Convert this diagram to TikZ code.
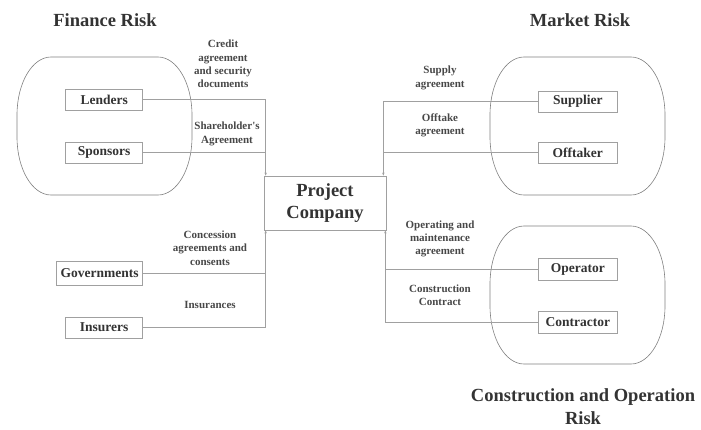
\documentclass[tikz,border=0pt]{standalone}
\usepackage{fontspec}
\setmainfont{Liberation Serif}
\usepackage{xcolor}
\usetikzlibrary{arrows.meta,calc}

\definecolor{inkgray}{HTML}{333333}
\definecolor{linegray}{HTML}{A0A0A0}
\definecolor{blobgray}{HTML}{808080}

\begin{document}
\begin{tikzpicture}[x=1pt,y=-1pt,
    party/.style={draw=linegray,line width=0.7pt,fill=white,text=inkgray,
      font=\fontsize{13.5}{15}\selectfont\bfseries,minimum width=77,minimum height=21,inner sep=4pt},
    deal/.style={text=inkgray!90,font=\fontsize{11}{13.3}\selectfont\bfseries,align=center},
    risk/.style={text=inkgray,font=\fontsize{18.5}{23}\selectfont\bfseries,align=center},
    link/.style={draw=linegray,line width=0.6pt},
    feed/.style={link,-{Stealth[length=3pt,width=2.4pt]}}]
      \useasboundingbox (0,0) rectangle (701,429);
      \def\rx{34}
      \def\ry{58}
      % the three risk groups
      \foreach \xa/\ya/\xb/\yb in {17/57/192/195,490/57/665/195,490/226/665/364}{
        \draw[blobgray,line width=0.6pt] (\xa+\rx,\ya)
          arc[start angle=270,end angle=180,x radius=\rx,y radius=\ry] -- (\xa,\yb-\ry)
          arc[start angle=180,end angle=90,x radius=\rx,y radius=\ry] -- (\xb-\rx,\yb)
          arc[start angle=90,end angle=0,x radius=\rx,y radius=\ry] -- (\xb,\ya+\ry)
          arc[start angle=0,end angle=-90,x radius=\rx,y radius=\ry] -- cycle;
      }
      \node[risk] (finrisk) at (105,20) {Finance Risk};
      \node[risk] (mktrisk) at (580,20) {Market Risk};
      \node[risk] (conrisk) at (583,407) {Construction and Operation\\Risk};
      % parties
      \node[party,anchor=east] (lend) at (143,99.5) {Lenders};
      \node[party,anchor=east] (spons) at (143,152.5) {Sponsors};
      \node[party,anchor=east,minimum height=24] (gov) at (143,273) {Governments};
      \node[party,anchor=east] (insur) at (143,327.5) {Insurers};
      \node[party,anchor=west,minimum width=79] (supp) at (538,101.5) {Supplier};
      \node[party,anchor=west,minimum width=79] (offt) at (538,152.5) {Offtaker};
      \node[party,anchor=west,minimum width=79,minimum height=22] (oper) at (538,269) {Operator};
      \node[party,anchor=west,minimum width=79,minimum height=22] (contr) at (538,322) {Contractor};
      \node[party,minimum width=122,minimum height=54,align=center,
        font=\fontsize{18.5}{22}\selectfont\bfseries] (pc) at (325,203) {Project\\Company};
      % contracts
      \coordinate (nw) at ([xshift=2]pc.north west);
      \coordinate (ne) at ([xshift=-3]pc.north east);
      \coordinate (sw) at ([xshift=2]pc.south west);
      \coordinate (se) at ([xshift=-1]pc.south east);
      \draw[feed] (lend.east) -| (nw);
      \draw[link] (spons.east) -- (spons.east -| nw);
      \draw[feed] (supp.west) -| (ne);
      \draw[link] (offt.west) -- (offt.west -| ne);
      \draw[feed] (insur.east) -| (sw);
      \draw[link] (gov.east) -- (gov.east -| sw);
      \draw[feed] (contr.west) -| (se);
      \draw[link] (oper.west) -- (oper.west -| se);
      \node[deal] (credit) at (223,64) {Credit\\agreement\\and security\\documents};
      \node[deal] (share) at (227,134) {Shareholder\textquotesingle s\\Agreement};
      \node[deal] (supply) at (440,78) {Supply\\agreement};
      \node[deal] (offtake) at (440,125) {Offtake\\agreement};
      \node[deal] (concess) at (210,248) {Concession\\agreements and\\consents};
      \node[deal] (insure) at (210,305) {Insurances};
      \node[deal] (om) at (440,239) {Operating and\\maintenance\\agreement};
      \node[deal] (build) at (440,295) {Construction\\Contract};
    \end{tikzpicture}
\end{document}
